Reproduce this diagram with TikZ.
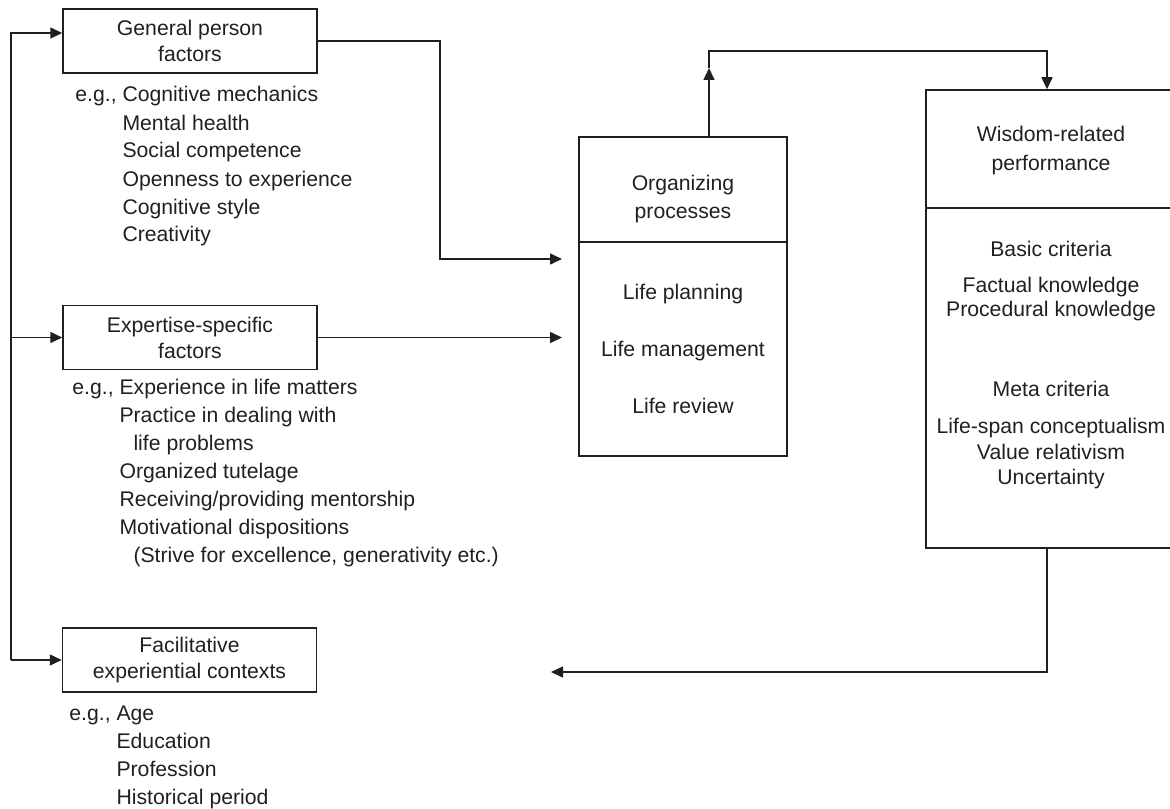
\documentclass[tikz,border=0pt]{standalone}
\usepackage{fontspec}
\setmainfont{Liberation Sans}
\usepackage{xcolor}
\usetikzlibrary{arrows.meta,positioning,calc}
\definecolor{ink}{HTML}{231F20}

\begin{document}
\begin{tikzpicture}[x=0.5pt,y=-0.5pt,
    every node/.style={text=ink,font=\fontsize{10.6}{13}\selectfont},
    factorbox/.style={draw=ink,line width=0.75pt,minimum width=127pt,minimum height=32pt,align=center,inner sep=0pt},
    procbox/.style={draw=ink,line width=0.75pt,minimum width=104pt,align=center,inner sep=0pt},
    examples/.style={anchor=base west,inner sep=0pt,font=\fontsize{10.6}{14}\selectfont},
    arr/.style={draw=ink,line width=0.75pt,-{Triangle[length=6pt,width=5.5pt]}}]
    \useasboundingbox (0,0) rectangle (1170,808);
    % Factor boxes
    \node[factorbox] (general) at (190,41) {General person\\factors};
    \node[factorbox] (expertise) at (190,337.5) {Expertise-specific\\factors};
    \node[factorbox] (context) at (189.5,660) {Facilitative\\experiential contexts};
    % Examples
    \node[examples] (generalex) at (75,102) {\begin{tabular}[t]{@{}l@{ }l@{}}
        e.g., & Cognitive mechanics\\ & Mental health\\ & Social competence\\
        & Openness to experience\\ & Cognitive style\\ & Creativity\end{tabular}};
    \node[examples] (expertiseex) at (72,394) {\begin{tabular}[t]{@{}l@{ }l@{}}
        e.g., & Experience in life matters\\ & Practice in dealing with\\
        & \hspace*{7pt}life problems\\ & Organized tutelage\\
        & Receiving/providing mentorship\\ & Motivational dispositions\\
        & \hspace*{7pt}(Strive for excellence, generativity etc.)\end{tabular}};
    \node[examples] (contextex) at (69,720) {\begin{tabular}[t]{@{}l@{ }l@{}}
        e.g., & Age\\ & Education\\ & Profession\\ & Historical period\end{tabular}};
    % Organizing processes
    \node[procbox,minimum height=52.5pt] (orgtop) at (683,189.5) {};
    \node[align=center] (orgtitle) at (683,199) {Organizing\\[1pt]processes};
    \node[procbox,minimum height=107pt] (orglow) at (683,349)
        {Life planning\\[15.5pt]Life management\\[15.5pt]Life review};
    % Wisdom-related performance (cut by the right margin)
    \node[procbox,minimum width=130pt,minimum height=59pt] (wisdomtop) at (1056,149) {};
    \node[align=center] (wisdomtitle) at (1051,151) {Wisdom-related\\[1.5pt]performance};
    \node[procbox,minimum width=130pt,minimum height=170pt] (wisdomlow) at (1056,378) {};
    \node[align=center,font=\fontsize{10.6}{12.5}\selectfont] (criteria) at (1051,365)
        {Basic criteria\\[5.5pt]Factual knowledge\\[-0.5pt]Procedural knowledge\\[27.5pt]
         Meta criteria\\[6pt]Life-span conceptualism\\[0.5pt]Value relativism\\Uncertainty};
    % Connectors
    \coordinate (busbot) at (11,660);
    \coordinate (genport) at ([yshift=4pt]general.west);
    \coordinate (genin) at (562,259);
    \coordinate (uptip) at (709,68);
    \coordinate (topright) at (1047,51);
    \coordinate (fbend) at (551,672);
    \draw[arr] (busbot) -- (busbot |- genport) -- (genport);
    \draw[arr] (busbot |- expertise.west) -- (expertise.west);
    \draw[arr] (busbot) -- (context.west);
    \draw[arr] (general.east) -- ++(122,0) |- (genin);
    \draw[arr] (expertise.east) -- (expertise.east -| genin);
    \draw[arr] (orgtop.north -| uptip) -- (uptip);
    \draw[arr] (uptip) |- (topright) -- (wisdomtop.north -| topright);
    \draw[arr] (wisdomlow.south -| topright) |- (fbend);
\end{tikzpicture}
\end{document}
